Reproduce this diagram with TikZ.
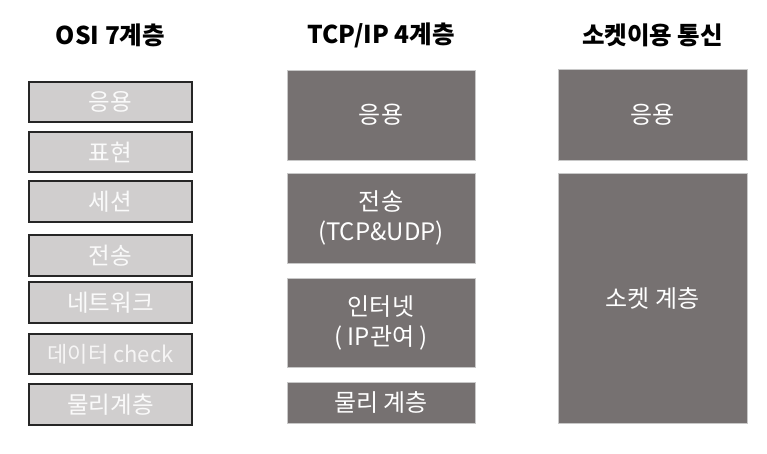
\documentclass[tikz,border=0pt]{standalone}
\usepackage{fontspec}
\setmainfont{Noto Sans CJK KR}
\usepackage{xcolor}
\definecolor{osifill}{HTML}{D0CECE}
\definecolor{ositext}{HTML}{FAFAFA}
\definecolor{tcpfill}{HTML}{767171}
\definecolor{tcpline}{HTML}{C8C8C8}

\tikzset{
  title/.style={font=\bfseries\fontsize{24.5}{28}\selectfont, text=black},
  osibox/.style={draw=black!85, line width=1.3pt, fill=osifill, text=ositext,
    minimum width=163pt, font=\fontsize{23.5}{26}\selectfont, inner sep=0pt},
  tcpbox/.style={draw=tcpline, line width=0.8pt, fill=tcpfill, text=white,
    minimum width=188pt, font=\fontsize{24}{30}\selectfont, inner sep=0pt, align=center}
}

\begin{document}
\begin{tikzpicture}[x=1pt,y=-1pt]

\useasboundingbox (0,0) rectangle (767,454);

% column titles
\node [title] (t1) at (110.5,35) {OSI 7계층};
\node [title] (t2) at (381,35) {TCP/IP 4계층};
\node [title] (t3) at (652.5,35) {소켓이용 통신};

% OSI 7 layers
\node [osibox, minimum height=40pt] (o1) at (110.5,102) {응용};
\node [osibox, minimum height=40pt] (o2) at (110.5,152) {표현};
\node [osibox, minimum height=41pt] (o3) at (110.5,201.5) {세션};
\node [osibox, minimum height=41pt] (o4) at (110.5,255.5) {전송};
\node [osibox, minimum height=41pt] (o5) at (110.5,302.5) {네트워크};
\node [osibox, minimum height=40pt, text=white!80!osifill, font=\fontsize{22}{24}\selectfont] (o6) at (110.5,354) {데이터 check};
\node [osibox, minimum height=41pt] (o7) at (110.5,404.5) {물리계층};

% TCP/IP 4 layers
\node [tcpbox, minimum height=90pt] (p1) at (381,115) {응용};
\node [tcpbox, minimum height=90pt] (p2) at (381,218) {전송\\(TCP\&UDP)};
\node [tcpbox, minimum height=89pt] (p3) at (381,322.5) {인터넷\\( IP관여 )};
\node [tcpbox, minimum height=41pt] (p4) at (381,402.5) {물리 계층};

% socket
\node [tcpbox, minimum width=189pt, minimum height=91pt] (s1) at (652.5,114.5) {응용};
\node [tcpbox, minimum width=189pt, minimum height=250pt] (s2) at (652.5,298) {소켓 계층};

\end{tikzpicture}
\end{document}
